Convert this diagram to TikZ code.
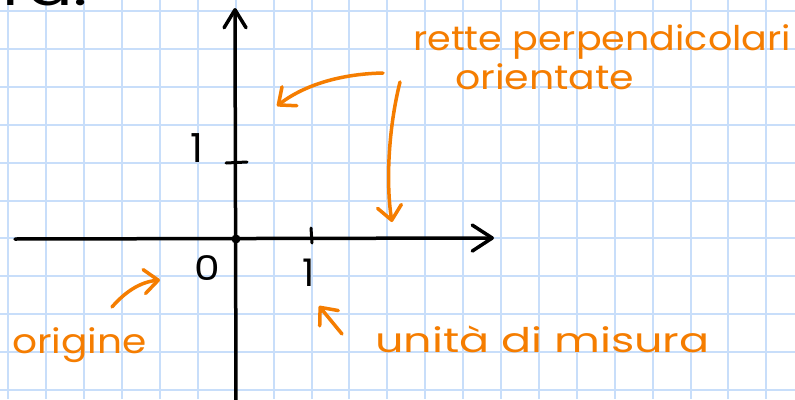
\documentclass[tikz,border=0pt]{standalone}
\usepackage{fontspec}
\setmainfont{Poppins}
\usetikzlibrary{arrows.meta}
\definecolor{gridblue}{RGB}{200,222,250}
\definecolor{penorange}{RGB}{245,125,0}
\begin{document}
\begin{tikzpicture}[x=1pt,y=-1pt,
  gridline/.style={draw=gridblue,line width=2pt},
  axis/.style={draw=black,line width=3.5pt,line cap=round,line join=round},
  axtip/.style={-{Straight Barb[length=20pt,width=26pt,round]}},
  note/.style={draw=penorange,line width=3.5pt,line cap=round,line join=round,-{Straight Barb[length=14pt,width=24pt,round]}},
  notetext/.style={text=penorange,font=\fontsize{34}{38}\selectfont,inner sep=0pt,anchor=base west},
  lbl/.style={text=black,inner sep=0pt}]
\useasboundingbox (0,0) rectangle (795,399);
\clip (0,0) rectangle (795,399);
\fill[white] (0,0) rectangle (795,399);
% grid
\foreach \i in {0,...,20} \draw[gridline] ({8.3+37.9*\i},0) -- ({8.3+37.9*\i},399);
\foreach \j in {0,...,10} \draw[gridline] (0,{11+37.9*\j}) -- (795,{11+37.9*\j});
% cut-off text at top
\node[lbl,font=\fontsize{52}{52}\selectfont,anchor=base west,xscale=1.3] (top) at (2,5) {ra.};
% axes
\coordinate (xs) at (15,239);
\coordinate (xe) at (494,238);
\coordinate (ys) at (236,410);
\coordinate (ye) at (235,8);
\draw[axis,axtip] (xs) -- (xe);
\draw[axis,-{Straight Barb[length=18pt,width=22pt,round]}] (ys) -- (ye);
\node[circle,fill=black,inner sep=0pt,minimum size=9pt] (O) at (236,239) {};
% ticks
\coordinate (ty1) at (226,163);
\coordinate (ty2) at (247,162);
\draw[axis,line width=3pt] (ty1) -- (ty2);
\coordinate (tx1) at (311,228);
\coordinate (tx2) at (312,243);
\draw[axis,line width=3pt] (tx1) -- (tx2);
% black labels
\node[lbl,font=\fontsize{34}{34}\selectfont,xscale=1.2] (zero) at (207,268) {0};
\node[lbl,font=\fontsize{40}{40}\selectfont] (yone) at (197,148) {1};
\node[lbl,font=\fontsize{38}{38}\selectfont] (xone) at (309,273) {1};
% orange texts
\node[notetext,xscale=1.12] (rette) at (413,50) {rette perpendicolari};
\node[notetext,xscale=1.16] (orient) at (455,89) {orientate};
\node[notetext,xscale=1.15] (orig) at (12,353) {origine};
\node[notetext,xscale=1.31] (unita) at (375,352) {unità di misura};
% orange arrows
\coordinate (a1s) at (383,73);
\coordinate (a1e) at (277,106);
\draw[note] (a1s) .. controls (335,74) and (300,88) .. (a1e);
\coordinate (a2s) at (400,82);
\coordinate (a2e) at (392,222);
\draw[note] (a2s) .. controls (388,130) and (386,185) .. (a2e);
\coordinate (a3s) at (112,307);
\coordinate (a3e) at (160,280);
\draw[note] (a3s) .. controls (125,292) and (140,282) .. (a3e);
\coordinate (a4s) at (342,334);
\coordinate (a4e) at (319,306);
\draw[note] (a4s) -- (a4e);
\end{tikzpicture}
\end{document}
